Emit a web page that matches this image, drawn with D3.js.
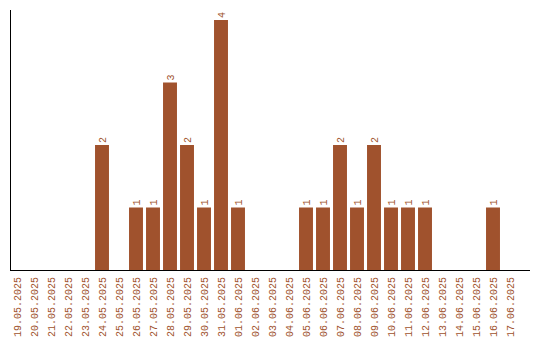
<!DOCTYPE html>
<html><head><meta charset="utf-8">
<script src="https://cdn.jsdelivr.net/npm/d3@7"></script>
<style>
html,body{margin:0;padding:0;background:#fff;}
svg{display:block;}
text{font-family:"Liberation Mono","Courier New",monospace;font-size:10px;fill:#a0522d;-webkit-font-smoothing:none;}
</style></head>
<body>
<script>
const dates = ["19.05.2025","20.05.2025","21.05.2025","22.05.2025","23.05.2025","24.05.2025","25.05.2025","26.05.2025","27.05.2025","28.05.2025","29.05.2025","30.05.2025","31.05.2025","01.06.2025","02.06.2025","03.06.2025","04.06.2025","05.06.2025","06.06.2025","07.06.2025","08.06.2025","09.06.2025","10.06.2025","11.06.2025","12.06.2025","13.06.2025","14.06.2025","15.06.2025","16.06.2025","17.06.2025"];
const counts = [0,0,0,0,0,2,0,1,1,3,2,1,4,1,0,0,0,1,1,2,1,2,1,1,1,0,0,0,1,0];

const W = 540, H = 340;
const svg = d3.select("body").append("svg").attr("width", W).attr("height", H);
const x = d3.scaleBand().domain(dates).range([8.5, 518.5]).paddingInner(0.18).paddingOuter(0.09);
const y = d3.scaleLinear().domain([0, 4]).range([270, 20]);
const color = "#a0522d";

svg.selectAll("rect.bar").data(dates).enter().append("rect")
  .attr("class","bar")
  .attr("x", d => x(d))
  .attr("width", x.bandwidth())
  .attr("y", (d,i) => y(counts[i]))
  .attr("height", (d,i) => y(0) - y(counts[i]))
  .attr("fill", color);

svg.selectAll("text.val").data(dates.filter((d,i)=>counts[i]>0)).enter().append("text")
  .attr("class","val")
  .attr("transform", d => `translate(${x(d)+x.bandwidth()/2+3.5},${y(counts[dates.indexOf(d)])-2}) rotate(-90)`)
  .attr("text-anchor","start")
  .text(d => counts[dates.indexOf(d)]);

svg.append("line").attr("x1",10.5).attr("x2",10.5).attr("y1",10).attr("y2",270.5).attr("stroke","#000").attr("stroke-width",1);
svg.append("line").attr("x1",10).attr("x2",530).attr("y1",270.5).attr("y2",270.5).attr("stroke","#000").attr("stroke-width",1);

svg.selectAll("text.lab").data(dates).enter().append("text")
  .attr("class","lab")
  .attr("transform", d => `translate(${x(d)+x.bandwidth()/2+3.5},277) rotate(-90)`)
  .attr("text-anchor","end")
  .text(d => d);
</script>
</body></html>
